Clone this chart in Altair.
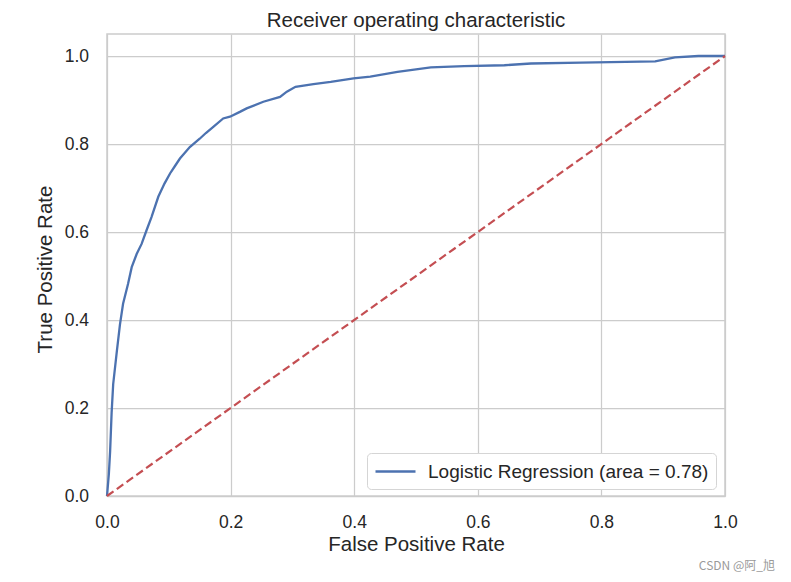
import altair as alt
import pandas as pd

# ---- data ----
fpr = [0.0, 0.003, 0.005, 0.0075, 0.010, 0.016, 0.021, 0.026, 0.034, 0.040,
       0.048, 0.056, 0.064, 0.072, 0.083, 0.093, 0.102, 0.110, 0.118, 0.134,
       0.150, 0.160, 0.172, 0.188, 0.199, 0.215, 0.226, 0.253, 0.280, 0.291,
       0.305, 0.334, 0.362, 0.399, 0.426, 0.470, 0.524, 0.578, 0.643, 0.686,
       0.767, 0.887, 0.919, 0.957, 1.0]
tpr = [0.0, 0.05, 0.10, 0.19, 0.254, 0.33, 0.39, 0.437, 0.482, 0.52,
       0.55, 0.573, 0.604, 0.634, 0.68, 0.71, 0.733, 0.75, 0.767, 0.793,
       0.812, 0.825, 0.839, 0.858, 0.862, 0.873, 0.881, 0.896, 0.907, 0.919,
       0.930, 0.936, 0.941, 0.949, 0.953, 0.964, 0.974, 0.977, 0.979, 0.983,
       0.985, 0.988, 0.997, 1.0, 1.0]
diag_x = [0.0, 1.0]
diag_y = [0.0, 1.0]
legend_label = "Logistic Regression (area = 0.78)"
x_ticks = [0.0, 0.2, 0.4, 0.6, 0.8, 1.0]
y_ticks = [0.0, 0.2, 0.4, 0.6, 0.8, 1.0]
title_text = ["Receiver operating characteristic"]
watermark = ["CSDN @阿_旭"]

FONT = "Liberation Sans"
TXT = "#262626"
BLUE = "#4c72b0"
RED = "#c44e52"

roc_df = pd.DataFrame({"fpr": fpr, "tpr": tpr,
                       "order": list(range(len(fpr))),
                       "label": [legend_label] * len(fpr)})
diag_df = pd.DataFrame({"fpr": diag_x, "tpr": diag_y})
title_df = pd.DataFrame({"t": title_text})
wm_df = pd.DataFrame({"wm": watermark})

x_enc = alt.X("fpr:Q",
              scale=alt.Scale(domain=[0, 1], nice=False, zero=False),
              axis=alt.Axis(values=x_ticks, format=".1f", title="False Positive Rate",
                            labelPadding=17.5, labelFlush=False,
                            titleX=309, titleY=54, titleBaseline="alphabetic"))
y_enc = alt.Y("tpr:Q",
              scale=alt.Scale(domain=[0, 1.05], nice=False, zero=False),
              axis=alt.Axis(values=y_ticks, format=".1f", title="True Positive Rate",
                            labelPadding=18.5, labelFlush=False,
                            titleX=-56, titleY=235, titleBaseline="alphabetic"))

roc = alt.Chart(roc_df).mark_line(strokeWidth=2.3).encode(
    x=x_enc, y=y_enc, order="order:Q",
    color=alt.Color("label:N",
                    scale=alt.Scale(domain=[legend_label], range=[BLUE]),
                    legend=alt.Legend(title=None, orient="none", legendX=260, legendY=419,
                                      symbolType="M-1,0H3", symbolSize=400,
                                      symbolStrokeWidth=2.3,
                                      labelFont=FONT, labelFontSize=19, labelColor=TXT,
                                      labelOffset=31, labelLimit=0, padding=7,
                                      strokeColor="#d5d5d5", fillColor="white",
                                      cornerRadius=4)))

diag = alt.Chart(diag_df).mark_line(color=RED, strokeDash=[8, 4], strokeWidth=2.2).encode(
    x=x_enc, y=y_enc)

title = alt.Chart(title_df).mark_text(align="center", baseline="alphabetic", fontSize=20.5,
                                      color=TXT, font=FONT).encode(
    x=alt.value(309), y=alt.value(-7.5), text="t:N")

wm = alt.Chart(wm_df).mark_text(align="right", baseline="middle", fontSize=12,
                                color="#9a9a9a", font="Noto Sans CJK SC").encode(
    x=alt.value(668), y=alt.value(532), text="wm:N")

chart = alt.layer(roc, diag, title, wm).properties(
    width=618, height=462,
    padding={"left": 99, "top": 26, "right": 58, "bottom": 78},
    autosize=alt.AutoSizeParams(type="none"),
).configure_view(
    stroke="#cccccc", strokeWidth=1.5
).configure_axis(
    grid=True, gridColor="#cccccc", gridWidth=1.25, domain=False, ticks=False,
    tickSize=0, labelFont=FONT, labelFontSize=17.5, labelColor=TXT,
    titleFont=FONT, titleFontSize=20.5, titleFontWeight="normal", titleColor=TXT
)

chart.save("out.html", embed_options={"renderer": "svg", "actions": False})
